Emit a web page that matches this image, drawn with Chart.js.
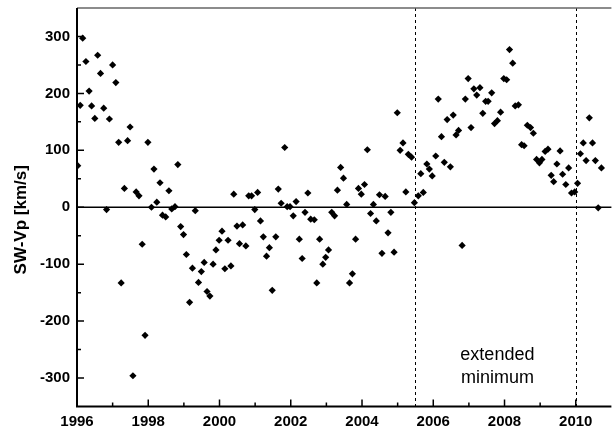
<!DOCTYPE html>
<html>
<head>
<meta charset="utf-8">
<script src="https://cdn.jsdelivr.net/npm/chart.js@4.4.0/dist/chart.umd.min.js"></script>
<style>
  html, body { margin: 0; padding: 0; background: #fff; overflow: hidden; }
  #wrap { position: absolute; left: 0; top: 0; width: 615px; height: 428px; }
</style>
</head>
<body>
<div id="wrap"><canvas id="swChart"></canvas></div>
<script>
// fecha decimal (año) de cada rotación
const years = [
  1996.02, 1996.09, 1996.16, 1996.25, 1996.34, 1996.41, 1996.50, 1996.58, 1996.66, 1996.75,
  1996.83, 1996.91, 1997.00, 1997.09, 1997.17, 1997.24, 1997.33, 1997.42, 1997.49, 1997.57,
  1997.66, 1997.74, 1997.83, 1997.91, 1997.99, 1998.09, 1998.16, 1998.24, 1998.33, 1998.40,
  1998.49, 1998.58, 1998.66, 1998.75, 1998.83, 1998.91, 1998.99, 1999.07, 1999.16, 1999.24,
  1999.32, 1999.41, 1999.49, 1999.57, 1999.65, 1999.73, 1999.82, 1999.90, 1999.99, 2000.07,
  2000.15, 2000.24, 2000.32, 2000.40, 2000.49, 2000.56, 2000.65, 2000.74, 2000.82, 2000.90,
  2000.99, 2001.07, 2001.15, 2001.23, 2001.32, 2001.40, 2001.48, 2001.58, 2001.65, 2001.73,
  2001.83, 2001.90, 2001.98, 2002.07, 2002.15, 2002.24, 2002.32, 2002.40, 2002.48, 2002.56,
  2002.66, 2002.73, 2002.81, 2002.90, 2002.98, 2003.06, 2003.15, 2003.23, 2003.31, 2003.40,
  2003.48, 2003.57, 2003.65, 2003.73, 2003.82, 2003.90, 2003.98, 2004.07, 2004.15, 2004.24,
  2004.32, 2004.40, 2004.49, 2004.56, 2004.65, 2004.73, 2004.81, 2004.90, 2004.99, 2005.07,
  2005.15, 2005.23, 2005.30, 2005.39, 2005.47, 2005.58, 2005.65, 2005.72, 2005.82, 2005.89,
  2005.97, 2006.07, 2006.14, 2006.23, 2006.31, 2006.39, 2006.48, 2006.56, 2006.64, 2006.71,
  2006.81, 2006.90, 2006.98, 2007.06, 2007.14, 2007.22, 2007.31, 2007.39, 2007.47, 2007.54,
  2007.64, 2007.72, 2007.80, 2007.89, 2007.98, 2008.06, 2008.14, 2008.23, 2008.30, 2008.39,
  2008.48, 2008.55, 2008.64, 2008.73, 2008.81, 2008.90, 2008.98, 2009.05, 2009.14, 2009.22,
  2009.31, 2009.38, 2009.47, 2009.56, 2009.63, 2009.72, 2009.80, 2009.88, 2009.97, 2010.05,
  2010.13, 2010.21, 2010.29, 2010.38, 2010.47, 2010.55, 2010.63, 2010.72
];

// SW - Vp en km/s
const swvp = [
  73, 179, 297, 256, 204, 178, 156, 267, 235, 174,
  -4, 155, 250, 219, 114, -133, 33, 117, 141, -296,
  27, 20, -65, -225, 114, 0, 67, 9, 43, -14,
  -17, 29, -3, 1, 75, -34, -48, -83, -167, -107,
  -6, -132, -113, -97, -148, -156, -100, -75, -58, -42,
  -108, -58, -103, 23, -33, -64, -31, -68, 20, 20,
  -4, 26, -24, -52, -86, -71, -146, -52, 32, 7,
  105, 1, 1, -15, 10, -56, -90, -9, 25, -21,
  -22, -133, -56, -100, -88, -75, -9, -15, 30, 70,
  51, 5, -133, -117, -56, 33, 23, 40, 101, -11,
  5, -24, 22, -81, 19, -45, -9, -79, 166, 100,
  113, 27, 93, 88, 8, 20, 59, 26, 76, 67,
  55, 90, 190, 124, 79, 154, 71, 162, 127, 135,
  -67, 190, 226, 140, 208, 197, 210, 165, 186, 186,
  201, 147, 152, 167, 226, 224, 277, 253, 178, 180,
  110, 108, 144, 140, 130, 84, 78, 84, 98, 102,
  56, 45, 76, 99, 58, 40, 69, 25, 27, 42,
  94, 113, 82, 157, 113, 82, -1, 69
];

const xTicks = [1996, 1998, 2000, 2002, 2004, 2006, 2008, 2010];
const yTicks = [-300, -200, -100, 0, 100, 200, 300];
const markerYears = [2005.5, 2010.0];   // líneas discontinuas

const FONT = '"Liberation Sans", Arial, sans-serif';

const overlay = {
  id: 'overlay',
  beforeDatasetsDraw(chart) {
    const { ctx, chartArea: a, scales: { x, y } } = chart;
    ctx.save();
    // línea del cero
    const y0 = y.getPixelForValue(0);
    ctx.strokeStyle = '#000';
    ctx.lineWidth = 1.5;
    ctx.beginPath();
    ctx.moveTo(a.left, y0);
    ctx.lineTo(a.right, y0);
    ctx.stroke();
    // mínimo extendido
    ctx.lineWidth = 1;
    ctx.setLineDash([3, 3]);
    markerYears.forEach(m => {
      const px = Math.round(x.getPixelForValue(m)) + 0.5;
      ctx.beginPath();
      ctx.moveTo(px, a.top);
      ctx.lineTo(px, a.bottom);
      ctx.stroke();
    });
    ctx.restore();
  },
  afterDraw(chart) {
    const { ctx, chartArea: a, scales: { x, y } } = chart;
    ctx.save();
    // marco
    ctx.strokeStyle = '#666';
    ctx.lineWidth = 1.5;
    ctx.beginPath();
    ctx.moveTo(a.left, a.top);
    ctx.lineTo(a.right, a.top);
    ctx.stroke();
    ctx.strokeStyle = '#000';
    ctx.lineWidth = 2;
    ctx.beginPath();
    ctx.moveTo(a.left, a.top);
    ctx.lineTo(a.left, a.bottom);
    ctx.lineTo(a.right, a.bottom);
    ctx.stroke();

    // ticks hacia dentro
    ctx.lineWidth = 1.5;
    ctx.beginPath();
    for (let v = x.min + 1; v < x.max; v++) {
      const px = x.getPixelForValue(v);
      const len = xTicks.includes(v) ? 7 : 4;
      ctx.moveTo(px, a.bottom);
      ctx.lineTo(px, a.bottom - len);
    }
    for (let v = y.min + 50; v < y.max; v += 50) {
      const py = y.getPixelForValue(v);
      const len = yTicks.includes(v) ? 7 : 4;
      ctx.moveTo(a.left, py);
      ctx.lineTo(a.left + len, py);
    }
    ctx.stroke();

    // texto
    ctx.fillStyle = '#000';
    ctx.font = '18px ' + FONT;
    ctx.textAlign = 'center';
    ctx.textBaseline = 'alphabetic';
    const tx = x.getPixelForValue(2007.8);
    ctx.fillText('extended', tx, y.getPixelForValue(-269));
    ctx.fillText('minimum', tx, y.getPixelForValue(-309));

    // título eje Y
    ctx.font = 'bold 17px ' + FONT;
    ctx.translate(21, y.getPixelForValue(-22));
    ctx.rotate(-Math.PI / 2);
    ctx.textBaseline = 'middle';
    ctx.fillText('SW-Vp [km/s]', 0, 0);
    ctx.restore();
  }
};

new Chart(document.getElementById('swChart').getContext('2d'), {
  type: 'scatter',
  data: {
    datasets: [{
      data: years.map((yr, i) => ({ x: yr, y: swvp[i] })),
      pointStyle: 'rectRot',
      pointRadius: 3.6,
      pointHoverRadius: 3.6,
      backgroundColor: '#000',
      borderColor: '#000',
      borderWidth: 0
    }]
  },
  options: {
    responsive: true,
    maintainAspectRatio: false,
    animation: false,
    layout: { padding: { top: 8, left: 0, right: 0, bottom: 0 } },
    scales: {
      x: {
        type: 'linear',
        min: 1996,
        max: 2011,
        afterBuildTicks: s => { s.ticks = xTicks.map(v => ({ value: v })); },
        afterFit: s => {
          s.height = 21.5;
          s.paddingLeft = 0; s.paddingRight = 0; s.paddingTop = 0; s.paddingBottom = 0;
        },
        grid: { display: false, drawTicks: false },
        border: { display: false },
        ticks: {
          padding: 6,
          color: '#000',
          font: { family: FONT, size: 15, weight: 'bold' },
          maxRotation: 0,
          callback: v => String(v)
        }
      },
      y: {
        min: -350,
        max: 350,
        afterBuildTicks: s => { s.ticks = yTicks.map(v => ({ value: v })); },
        afterFit: s => {
          s.width = 77;
          s.paddingLeft = 0; s.paddingRight = 0; s.paddingTop = 0; s.paddingBottom = 0;
        },
        grid: { display: false, drawTicks: false },
        border: { display: false },
        ticks: {
          padding: 7,
          color: '#000',
          font: { family: FONT, size: 15, weight: 'bold' },
          callback: v => String(v)
        }
      }
    },
    plugins: {
      legend: { display: false },
      tooltip: { enabled: false }
    }
  },
  plugins: [overlay]
});
</script>
</body>
</html>
